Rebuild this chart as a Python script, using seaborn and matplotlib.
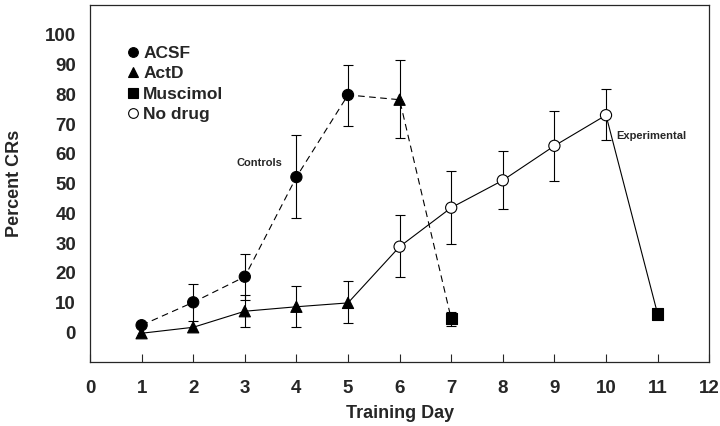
import matplotlib
matplotlib.use("Agg")
import matplotlib.pyplot as plt
import seaborn as sns
import pandas as pd
from matplotlib.lines import Line2D

# Controls: ACSF days 1-5, ActD day 6, Muscimol day 7
ctrl_day = [1, 2, 3, 4, 5, 6, 7]
ctrl_val = [2.4, 10.1, 18.7, 52.2, 79.8, 78.2, 4.6]
ctrl_drug = ["ACSF", "ACSF", "ACSF", "ACSF", "ACSF", "ActD", "Muscimol"]
ctrl_lo = [None, 3.7, 11.0, 38.3, 69.4, 65.4, 2.0]
ctrl_hi = [None, 16.4, 26.4, 66.3, 90.0, 91.7, 6.9]

# Experimental: ActD days 1-5, No drug days 6-10, Muscimol day 11
exp_day = [1, 2, 3, 4, 5, 6, 7, 8, 9, 10, 11]
exp_val = [-0.3, 1.7, 7.1, 8.6, 9.9, 28.8, 41.9, 51.1, 62.7, 73.0, 6.2]
exp_drug = ["ActD"] * 5 + ["No drug"] * 5 + ["Muscimol"]
exp_lo = [None, None, 1.7, 1.7, 3.2, 18.7, 29.6, 41.4, 50.8, 64.6, None]
exp_hi = [None, None, 12.7, 15.7, 17.2, 39.3, 54.3, 61.0, 74.5, 81.8, None]

drugs = ["ACSF", "ActD", "Muscimol", "No drug"]
drug_markers = {"ACSF": "o", "ActD": "^", "Muscimol": "s", "No drug": "o"}
drug_fill = {"ACSF": "black", "ActD": "black", "Muscimol": "black", "No drug": "white"}

df = pd.concat([
    pd.DataFrame({"day": ctrl_day, "pct": ctrl_val, "drug": ctrl_drug,
                  "lo": ctrl_lo, "hi": ctrl_hi, "group": "Controls"}),
    pd.DataFrame({"day": exp_day, "pct": exp_val, "drug": exp_drug,
                  "lo": exp_lo, "hi": exp_hi, "group": "Experimental"}),
], ignore_index=True)

sns.set_style("ticks")
plt.rcParams["font.family"] = ["Liberation Sans", "DejaVu Sans"]
plt.rcParams["font.weight"] = "bold"

fig = plt.figure(figsize=(7.2, 4.26), dpi=100)
ax = fig.add_axes([0.125, 0.150, 0.860, 0.838])

sns.lineplot(data=df, x="day", y="pct", style="group",
             dashes={"Controls": (6, 4), "Experimental": ""},
             color="black", linewidth=0.8, sort=False, legend=False,
             estimator=None, ax=ax, zorder=2)

err = df.dropna(subset=["lo"])
ax.errorbar(err["day"], err["pct"],
            yerr=[err["pct"] - err["lo"], err["hi"] - err["pct"]],
            fmt="none", ecolor="black", elinewidth=0.8, capsize=3.5,
            capthick=0.8, zorder=1)

sns.scatterplot(data=df, x="day", y="pct", hue="drug", style="drug",
                palette=drug_fill, markers=drug_markers, hue_order=drugs,
                s=65, edgecolor="black", linewidth=0.8, legend=False,
                ax=ax, zorder=3)

ax.set_xlim(0, 12)
ax.set_ylim(-10, 110)
ax.set_xticks(range(0, 13))
ax.set_yticks(range(0, 101, 10))
ax.tick_params(axis="x", direction="in", length=6, width=0.8, pad=13, labelsize=13.5)
ax.tick_params(axis="y", length=0, pad=10, labelsize=13.5)
for s in ax.spines.values():
    s.set_linewidth(0.9)

ax.set_xlabel("Training Day", fontsize=13, fontweight="bold", labelpad=6)
ax.set_ylabel("Percent CRs", fontsize=13, fontweight="bold", labelpad=16)

ax.text(3.28, 57, "Controls", ha="center", va="center", fontsize=8, fontweight="bold")
ax.text(10.87, 66, "Experimental", ha="center", va="center", fontsize=8, fontweight="bold")

handles = [Line2D([], [], linestyle="", marker=drug_markers[d], markersize=7,
                  markerfacecolor=drug_fill[d], markeredgecolor="black",
                  markeredgewidth=0.8) for d in drugs]
ax.legend(handles, drugs, loc="upper left", bbox_to_anchor=(0.03, 0.93),
          frameon=False, handletextpad=0.1, handlelength=1.0,
          labelspacing=0.3, prop={"size": 12.5, "weight": "bold"})

fig.savefig("out.png", dpi=100)
